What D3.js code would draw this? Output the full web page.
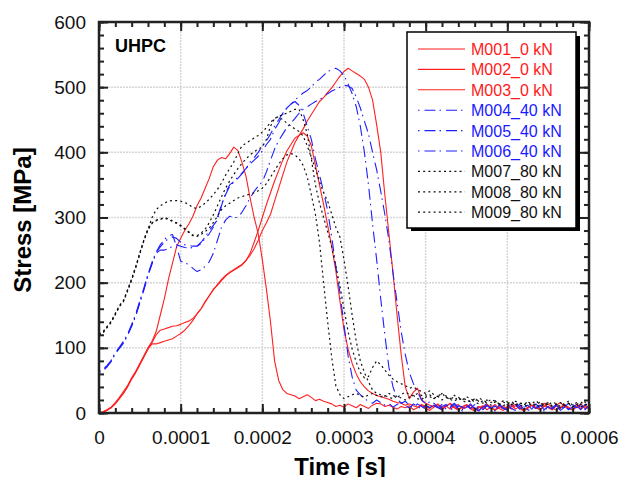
<!DOCTYPE html>
<html lang="en">
<head>
<meta charset="UTF-8" />
<title>UHPC - Stress vs Time</title>
<script src="https://d3js.org/d3.v7.min.js"></script>
<style>
  body { margin: 0; background: #fff; }
  svg { display: block; font-family: "Liberation Sans", Arial, Helvetica, sans-serif; }
  .axis .domain { display: none; }
  .axis .tick line { stroke: #222; stroke-width: 2; }
  .axis .tick text { font-size: 19px; fill: #111; }
  .grid line { stroke: #d6d6d6; stroke-width: 1.5; stroke-dasharray: 2,1; }
</style>
</head>
<body>
<div id="chart"></div>
<script>
// sample times in microseconds (every 5 us)
const timeUs = [
  0, 5, 10, 15, 20, 25, 30, 35, 40, 45,
  50, 55, 60, 65, 70, 75, 80, 85, 90, 95,
  100, 105, 110, 115, 120, 125, 130, 135, 140, 145,
  150, 155, 160, 165, 170, 175, 180, 185, 190, 195,
  200, 205, 210, 215, 220, 225, 230, 235, 240, 245,
  250, 255, 260, 265, 270, 275, 280, 285, 290, 295,
  300, 305, 310, 315, 320, 325, 330, 335, 340, 345,
  350, 355, 360, 365, 370, 375, 380, 385, 390, 395,
  400, 405, 410, 415, 420, 425, 430, 435, 440, 445,
  450, 455, 460, 465, 470, 475, 480, 485, 490, 495,
  500, 505, 510, 515, 520, 525, 530, 535, 540, 545,
  550, 555, 560, 565, 570, 575, 580, 585, 590, 595,
  600
];

// stress [MPa], 0 kN
const m001 = [
  0, 2, 5, 9, 16, 24, 33, 42, 54, 64,
  76, 88, 100, 110, 125, 150, 175, 205, 230, 255,
  268, 280, 290, 302, 318, 330, 345, 360, 378, 388,
  392, 390, 398, 408, 403, 385, 363, 330, 300, 275,
  235, 190, 140, 80, 50, 36, 30, 28, 26, 22,
  25, 28, 24, 19, 21, 18, 16, 14, 10, 12,
  9, 14, 11, 8, 13, 10, 7, 12, 15, 14,
  10, 12, 9, 6, 10, 8, 11, 5, 8, 12,
  7, 4, 9, 13, 6, 10, 15, 8, 4, 9,
  12, 6, 3, 8, 11, 5, 9, 13, 7, 4,
  10, 6, 11, 8, 3, 7, 12, 9, 5, 10,
  14, 8, 4, 9, 13, 7, 5, 10, 6, 12,
  8
];
const m002 = [
  0, 1, 4, 8, 14, 22, 30, 40, 52, 62,
  74, 86, 98, 108, 120, 127, 129, 131, 133, 134,
  136, 139, 141, 145, 152, 160, 170, 180, 190, 196,
  203, 210, 215, 219, 223, 227, 234, 245, 262, 280,
  300, 320, 338, 356, 372, 388, 402, 412, 422, 426,
  430, 425, 410, 380, 350, 320, 288, 255, 218, 172,
  128, 98, 76, 60, 48, 40, 34, 30, 27, 25,
  23, 21, 18, 16, 15, 12, 14, 11, 9, 13,
  10, 7, 12, 8, 5, 11, 14, 9, 6, 10,
  13, 8, 5, 10, 7, 12, 9, 4, 8, 11,
  6, 10, 13, 7, 4, 9, 12, 8, 5, 11,
  9, 5, 12, 16, 10, 6, 9, 13, 7, 10,
  6
];
const m003 = [
  0, 2, 5, 9, 15, 23, 31, 41, 53, 63,
  75, 87, 99, 106, 106, 108, 110, 112, 114, 118,
  122, 127, 134, 142, 152, 160, 171, 180, 189, 197,
  205, 211, 216, 220, 224, 228, 234, 242, 252, 265,
  280, 292, 305, 325, 345, 365, 385, 400, 415, 426,
  436, 448, 458, 468, 478, 484, 492, 499, 508, 517,
  524, 529, 525, 521, 517, 512, 500, 480, 442, 400,
  335, 275, 215, 150, 90, 40, 22, 32, 38, 20,
  15, 12, 9, 14, 8, 11, 6, 10, 13, 7,
  9, 12, 6, 4, 10, 14, 8, 5, 11, 7,
  9, 13, 6, 10, 4, 8, 12, 7, 10, 15,
  8, 5, 11, 7, 13, 9, 4, 10, 14, 7,
  9
];

// 40 kN
const m004 = [
  63, 66, 72, 80, 92, 100, 108, 120, 134, 150,
  170, 190, 212, 230, 246, 255, 262, 268, 270, 268,
  262, 258, 257, 256, 256, 260, 268, 275, 285, 300,
  320, 335, 348, 354, 360, 367, 375, 382, 388, 394,
  402, 412, 420, 435, 445, 458, 468, 474, 480, 486,
  491, 495, 500, 508, 512, 518, 524, 527, 529, 525,
  518, 505, 490, 470, 440, 400, 350, 290, 235, 175,
  120, 70, 40, 22, 15, 18, 12, 8, 14, 10,
  6, 11, 15, 9, 5, 12, 8, 13, 7, 3,
  9, 14, 6, 10, 5, 11, 8, 3, 12, 7,
  4, 9, 13, 6, 10, 5, 8, 14, 7, 3,
  10, 6, 12, 4, 9, 15, 7, 11, 5, 13,
  8
];
const m005 = [
  64, 67, 73, 81, 93, 101, 110, 121, 136, 152,
  172, 192, 213, 232, 247, 258, 266, 272, 274, 255,
  233, 230, 228, 222, 217, 220, 225, 232, 245, 265,
  285, 296, 302, 300, 300, 308, 318, 330, 340, 348,
  355, 370, 388, 405, 418, 428, 438, 445, 452, 460,
  466, 470, 474, 478, 481, 485, 490, 494, 497, 500,
  503, 502, 498, 485, 468, 448, 428, 400, 373, 340,
  305, 265, 215, 170, 125, 90, 62, 45, 32, 20,
  14, 17, 11, 8, 13, 6, 10, 15, 9, 5,
  11, 7, 13, 4, 9, 12, 6, 10, 14, 8,
  5, 11, 8, 13, 6, 3, 10, 7, 12, 9,
  4, 8, 13, 6, 11, 5, 9, 14, 10, 6,
  11
];
const m006 = [
  62, 65, 71, 79, 91, 99, 107, 119, 133, 149,
  169, 189, 211, 229, 245, 250, 250, 252, 256, 258,
  256, 254, 253, 254, 256, 262, 270, 280, 288, 296,
  318, 338, 350, 355, 362, 368, 375, 385, 392, 400,
  410, 418, 428, 440, 450, 460, 468, 474, 478, 472,
  460, 440, 420, 390, 365, 340, 310, 270, 225, 185,
  135, 88, 55, 35, 28, 22, 18, 15, 20, 16,
  12, 15, 9, 13, 17, 11, 8, 14, 10, 6,
  12, 8, 14, 5, 10, 13, 7, 4, 11, 9,
  6, 12, 8, 3, 10, 14, 7, 11, 5, 9,
  13, 7, 4, 10, 8, 12, 6, 9, 14, 5,
  10, 7, 12, 4, 9, 6, 13, 8, 11, 5,
  9
];

// 80 kN
const m007 = [
  120, 124, 132, 140, 152, 164, 172, 188, 205, 224,
  245, 265, 282, 300, 312, 318, 322, 325, 326, 326,
  325, 323, 320, 315, 314, 317, 322, 328, 335, 343,
  353, 365, 375, 385, 398, 410, 414, 418, 422, 426,
  431, 438, 446, 452, 455, 458, 460, 463, 466, 466,
  450, 428, 390, 350, 322, 300, 278, 255, 225, 195,
  160, 125, 98, 78, 62, 54, 56, 70, 80, 74,
  66, 58, 52, 48, 45, 42, 38, 40, 36, 33,
  30, 34, 28, 25, 30, 26, 22, 27, 24, 20,
  25, 22, 18, 23, 20, 16, 21, 18, 14, 19,
  17, 13, 18, 15, 12, 17, 14, 19, 13, 16,
  12, 17, 14, 10, 15, 18, 12, 16, 13, 17,
  14
];
const m008 = [
  121, 125, 133, 141, 153, 165, 173, 189, 206, 225,
  246, 266, 283, 292, 296, 298, 300, 298, 295, 292,
  288, 283, 278, 273, 272, 276, 282, 292, 304, 318,
  332, 345, 356, 366, 375, 383, 390, 396, 401, 405,
  408, 420, 440, 452, 455, 450, 445, 440, 436, 432,
  425, 410, 392, 375, 355, 338, 325, 305, 285, 270,
  235, 195, 150, 110, 80, 62, 48, 35, 30, 28,
  26, 30, 27, 24, 28, 32, 29, 26, 30, 27,
  24, 28, 22, 26, 20, 24, 21, 18, 23, 19,
  16, 21, 17, 14, 19, 15, 12, 17, 14, 11,
  15, 12, 16, 10, 13, 17, 11, 14, 9, 13,
  16, 11, 14, 8, 12, 15, 10, 13, 9, 14,
  11
];
const m009 = [
  119, 123, 131, 139, 151, 163, 171, 187, 204, 223,
  244, 264, 281, 291, 295, 297, 299, 297, 294, 291,
  287, 282, 277, 272, 271, 274, 278, 284, 292, 302,
  312, 318, 322, 326, 330, 332, 334, 336, 338, 341,
  345, 352, 362, 372, 382, 390, 396, 398, 396, 390,
  380, 362, 335, 305, 262, 200, 140, 85, 42, 28,
  22, 25, 28, 30, 27, 24, 28, 30, 27, 25,
  27, 24, 22, 26, 23, 20, 24, 27, 22, 20,
  28, 25, 22, 26, 30, 24, 21, 25, 19, 23,
  20, 17, 22, 18, 15, 20, 16, 19, 13, 17,
  14, 18, 12, 16, 13, 10, 15, 12, 17, 11,
  14, 10, 13, 16, 11, 15, 9, 13, 17, 12,
  15
];

const seriesNames = ["M001_0 kN", "M002_0 kN", "M003_0 kN",
                     "M004_40 kN", "M005_40 kN", "M006_40 kN",
                     "M007_80 kN", "M008_80 kN", "M009_80 kN"];
const seriesLoad = [0, 0, 0, 40, 40, 40, 80, 80, 80];
const seriesValues = [m001, m002, m003, m004, m005, m006, m007, m008, m009];

const xTicks = [0, 0.0001, 0.0002, 0.0003, 0.0004, 0.0005, 0.0006];
const yTicks = [0, 100, 200, 300, 400, 500, 600];

seriesValues.forEach((s, i) => {
  if (s.length !== timeUs.length) throw new Error(seriesNames[i] + " length " + s.length);
});

// line style per load level
const styles = {
  0:  { color: "#ff2020", dash: null, width: 1.1 },
  40: { color: "#1f1fff", dash: "1.5,5,11,4", width: 1.1 },
  80: { color: "#111", dash: "2,3.2", width: 1.2 }
};

const width = 619, height = 477;
const plot = { left: 99, right: 589, top: 22, bottom: 413 };

const svg = d3.select("#chart").append("svg")
  .attr("width", width)
  .attr("height", height);

const x = d3.scaleLinear().domain([0, 0.0006]).range([plot.left, plot.right]);
const y = d3.scaleLinear().domain([0, 600]).range([plot.bottom, plot.top]);

// grid
const grid = svg.append("g").attr("class", "grid");
grid.selectAll(".gx").data(xTicks.slice(1, -1)).enter().append("line")
  .attr("x1", d => x(d)).attr("x2", d => x(d))
  .attr("y1", plot.top).attr("y2", plot.bottom);
grid.selectAll(".gy").data(yTicks.slice(1, -1)).enter().append("line")
  .attr("x1", plot.left).attr("x2", plot.right)
  .attr("y1", d => y(d)).attr("y2", d => y(d));

// curves
svg.append("clipPath").attr("id", "plotClip")
  .append("rect")
  .attr("x", plot.left).attr("y", plot.top)
  .attr("width", plot.right - plot.left).attr("height", plot.bottom - plot.top);

const line = d3.line()
  .x((d, i) => x(timeUs[i] * 1e-6))
  .y(d => y(d));

svg.append("g").attr("clip-path", "url(#plotClip)")
  .selectAll("path")
  .data(seriesValues)
  .enter().append("path")
  .attr("fill", "none")
  .attr("stroke", (d, i) => styles[seriesLoad[i]].color)
  .attr("stroke-width", (d, i) => styles[seriesLoad[i]].width)
  .attr("stroke-dasharray", (d, i) => styles[seriesLoad[i]].dash)
  .attr("stroke-linejoin", "round")
  .attr("d", line);

// axes: major ticks with labels, minor ticks, on all four sides
const fmtX = d => d === 0 ? "0" : d.toFixed(4);
const xMinor = d3.range(0, 31).map(i => i * 0.00002);
const yMinor = d3.range(0, 31).map(i => i * 20);

svg.append("g").attr("class", "axis")
  .attr("transform", `translate(0,${plot.bottom})`)
  .call(d3.axisBottom(x).tickValues(xTicks).tickSize(-9).tickPadding(18).tickFormat(fmtX));
svg.append("g").attr("class", "axis")
  .attr("transform", `translate(0,${plot.bottom})`)
  .call(d3.axisBottom(x).tickValues(xMinor).tickSize(-5).tickFormat(""));
svg.append("g").attr("class", "axis")
  .attr("transform", `translate(0,${plot.top})`)
  .call(d3.axisTop(x).tickValues(xTicks).tickSize(-9).tickFormat(""));
svg.append("g").attr("class", "axis")
  .attr("transform", `translate(0,${plot.top})`)
  .call(d3.axisTop(x).tickValues(xMinor).tickSize(-5).tickFormat(""));

svg.append("g").attr("class", "axis")
  .attr("transform", `translate(${plot.left},0)`)
  .call(d3.axisLeft(y).tickValues(yTicks).tickSize(-9).tickPadding(13));
svg.append("g").attr("class", "axis")
  .attr("transform", `translate(${plot.left},0)`)
  .call(d3.axisLeft(y).tickValues(yMinor).tickSize(-5).tickFormat(""));
svg.append("g").attr("class", "axis")
  .attr("transform", `translate(${plot.right},0)`)
  .call(d3.axisRight(y).tickValues(yTicks).tickSize(-9).tickFormat(""));
svg.append("g").attr("class", "axis")
  .attr("transform", `translate(${plot.right},0)`)
  .call(d3.axisRight(y).tickValues(yMinor).tickSize(-5).tickFormat(""));

// frame
svg.append("rect")
  .attr("x", plot.left).attr("y", plot.top)
  .attr("width", plot.right - plot.left).attr("height", plot.bottom - plot.top)
  .attr("fill", "none")
  .attr("stroke", "#222")
  .attr("stroke-width", 2.5);

// axis titles
svg.append("text")
  .attr("x", 340).attr("y", 475)
  .attr("text-anchor", "middle")
  .attr("font-size", 24).attr("font-weight", "bold")
  .text("Time [s]");

svg.append("text")
  .attr("transform", "translate(31,220) rotate(-90)")
  .attr("text-anchor", "middle")
  .attr("font-size", 24).attr("font-weight", "bold")
  .text("Stress [MPa]");

svg.append("text")
  .attr("x", 115).attr("y", 52)
  .attr("font-size", 18).attr("font-weight", "bold")
  .text("UHPC");

// legend
const lg = svg.append("g");
lg.append("rect")
  .attr("x", 411).attr("y", 36).attr("width", 169).attr("height", 195)
  .attr("fill", "#000");
lg.append("rect")
  .attr("x", 407).attr("y", 32).attr("width", 169).attr("height", 196)
  .attr("fill", "#fff")
  .attr("stroke", "#000").attr("stroke-width", 1.5);

const rows = lg.selectAll(".row")
  .data(seriesNames)
  .enter().append("g")
  .attr("transform", (d, i) => `translate(0,${49 + i * 20.4})`);

rows.append("line")
  .attr("x1", 418).attr("x2", 465)
  .attr("stroke", (d, i) => styles[seriesLoad[i]].color)
  .attr("stroke-width", (d, i) => styles[seriesLoad[i]].width)
  .attr("stroke-dasharray", (d, i) => styles[seriesLoad[i]].dash);

rows.append("text")
  .attr("x", 471).attr("y", 6)
  .attr("font-size", 16)
  .attr("fill", (d, i) => seriesLoad[i] === 0 ? "#ff1a1a" : seriesLoad[i] === 40 ? "#1a1aff" : "#111")
  .text(d => d);
</script>
</body>
</html>
